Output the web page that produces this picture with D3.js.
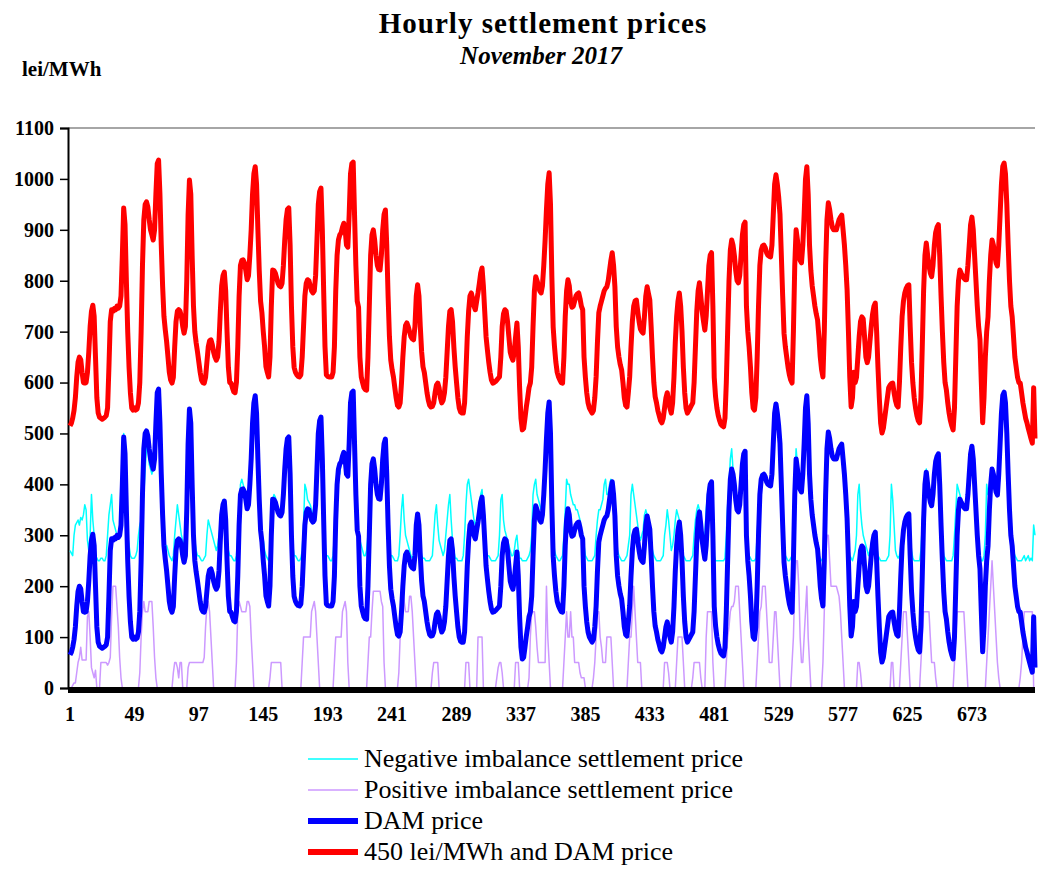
<!DOCTYPE html>
<html>
<head>
<meta charset="utf-8">
<script src="https://cdn.jsdelivr.net/npm/d3@7"></script>
<style>
  body { margin: 0; background: #fff; }
  text { font-family: "Liberation Serif", "Times New Roman", serif; }
</style>
</head>
<body>
<svg id="chart" width="1041" height="870"></svg>
<script>
// DAM price per day (24 hourly values each), November 2017, lei/MWh
var damDays = [
  [65,70,80,95,120,160,190,200,195,170,150,149,150,170,210,260,290,302,280,200,120,90,82,80],
  [78,80,82,85,100,180,270,293,290,295,293,300,296,300,320,400,493,460,350,250,180,130,100,96],
  [100,96,98,110,150,250,380,470,500,505,495,470,450,440,430,450,520,580,587,520,420,340,280,253],
  [230,200,170,155,149,160,220,270,290,293,290,280,260,247,260,350,480,548,520,400,300,250,228,210],
  [190,170,155,150,149,160,190,220,232,234,225,210,200,194,200,230,290,340,360,367,330,250,180,150],
  [149,140,132,130,150,220,320,380,390,391,385,370,352,360,400,450,520,560,574,540,450,370,310,287],
  [250,220,181,170,161,200,300,371,370,365,355,345,340,338,345,380,430,470,490,493,420,300,220,180],
  [170,165,162,161,165,200,260,320,345,352,350,340,330,326,330,360,430,500,525,532,450,330,220,165],
  [162,161,161,161,170,220,330,400,430,440,444,455,463,450,420,416,480,560,580,583,480,380,310,298],
  [200,161,150,140,136,135,200,300,400,440,450,430,400,380,372,371,400,450,480,489,420,320,240,194],
  [175,161,140,120,105,102,110,150,200,240,262,267,260,250,240,236,234,260,320,342,320,260,210,181],
  [170,150,130,115,105,102,103,110,130,145,149,140,120,110,115,130,160,210,260,290,293,270,220,181],
  [150,120,100,92,90,90,110,170,240,290,320,326,315,300,293,310,326,345,365,375,340,290,240,214],
  [190,170,155,149,150,152,155,158,161,200,260,285,293,290,270,240,210,200,194,210,240,267,220,140],
  [80,57,60,80,102,120,140,149,180,260,330,358,350,340,330,326,340,380,430,490,540,562,500,360],
  [259,220,190,170,161,155,150,149,200,280,330,352,340,310,298,300,310,320,324,326,315,300,293,200],
  [160,130,110,100,95,90,95,120,161,230,287,300,310,320,330,335,338,350,370,390,405,380,338,260],
  [220,200,185,175,150,120,105,102,130,161,220,270,300,310,312,290,270,255,250,247,280,320,338,325],
  [312,260,200,150,122,110,95,85,75,71,80,100,120,130,115,100,90,110,160,230,280,310,326,300],
  [250,180,130,100,90,95,100,105,110,150,220,290,330,346,320,290,270,253,280,330,380,400,405,300],
  [160,122,100,85,75,68,65,63,80,150,250,350,410,430,420,400,370,350,346,360,400,440,460,465],
  [300,250,220,180,130,100,96,120,200,300,380,410,418,420,415,405,400,398,397,420,480,540,558,540],
  [515,480,400,320,247,220,200,180,165,155,149,250,380,450,430,400,390,385,420,480,550,574,520,420],
  [370,340,320,300,285,273,240,200,175,161,250,380,470,503,490,470,455,450,450,450,460,470,475,479],
  [450,420,380,332,250,160,102,120,170,150,160,200,240,270,279,275,240,200,189,200,230,260,285,300],
  [306,250,180,120,70,51,60,80,100,120,140,145,148,149,130,115,105,102,150,220,280,310,326,335],
  [340,342,260,190,149,120,100,85,75,71,120,220,330,400,424,400,380,365,358,380,420,445,455,460],
  [400,320,250,190,150,135,110,90,75,65,57,100,200,300,350,371,365,360,355,352,352,380,420,460],
  [475,450,400,350,300,260,234,150,71,120,200,250,279,350,400,430,420,400,385,379,420,480,540,575],
  [581,560,500,420,350,300,279,240,200,180,160,150,149,130,110,95,80,71,60,50,40,31,140,40]
];

// Negative imbalance settlement price per day
var negDays = [
  [270,265,260,300,320,325,330,320,335,330,340,360,350,290,270,300,380,330,300,260,255,250,250,255],
  [255,250,250,260,300,340,360,380,330,320,310,300,300,310,330,420,500,470,380,300,280,260,255,255],
  [255,260,270,300,320,330,360,380,430,470,480,440,430,420,430,450,520,580,590,520,430,350,300,280],
  [280,270,260,255,250,260,300,330,360,340,320,300,290,280,300,350,480,550,520,410,310,290,270,260],
  [260,255,250,250,255,260,300,330,320,310,300,290,280,270,280,300,320,350,370,370,330,290,270,260],
  [260,255,250,250,260,300,330,400,410,400,390,380,370,380,410,450,520,560,575,540,460,380,330,300],
  [290,270,260,255,250,260,300,370,380,375,360,350,345,340,350,380,430,470,490,495,420,320,280,260],
  [260,255,250,250,255,270,320,400,390,370,365,360,350,340,340,370,430,500,525,532,450,340,280,260],
  [260,255,250,250,260,300,350,410,420,420,444,455,463,450,420,416,480,560,580,583,480,380,320,300],
  [290,280,270,260,260,270,300,350,400,440,450,430,400,380,380,380,400,450,480,489,420,330,270,260],
  [260,255,250,250,250,260,300,350,380,330,300,290,280,270,260,255,260,280,320,342,320,280,260,255],
  [255,250,250,250,250,255,260,300,340,360,320,290,280,270,260,270,300,330,360,380,330,290,270,255],
  [255,250,250,250,250,260,300,360,400,410,390,370,350,330,320,330,340,360,380,390,350,300,270,260],
  [260,255,250,250,250,250,255,260,300,370,380,330,310,300,290,280,270,260,260,270,290,300,270,255],
  [255,250,250,250,250,255,260,270,300,380,400,410,380,370,360,350,360,400,440,490,540,562,500,370],
  [300,270,260,255,250,250,255,260,300,350,410,400,400,380,370,360,360,350,350,340,330,310,300,280],
  [260,255,250,250,250,250,255,260,300,330,350,350,360,370,400,410,380,380,400,410,405,380,340,300],
  [270,260,255,250,250,250,255,260,280,300,380,400,380,360,340,320,300,290,300,310,340,350,340,330],
  [320,290,270,260,255,250,250,250,250,255,260,300,320,350,330,300,270,280,300,330,350,340,330,310],
  [280,260,255,250,250,250,250,255,260,300,330,350,360,350,330,300,290,300,350,380,400,405,405,320],
  [260,250,250,250,250,250,250,250,255,300,360,400,450,470,430,410,380,360,350,370,420,450,460,465],
  [300,270,260,255,250,250,250,255,300,350,400,420,420,420,415,405,400,398,398,420,480,540,558,540],
  [515,480,400,330,270,260,255,250,250,255,260,300,400,470,440,400,390,385,420,480,550,574,520,420],
  [380,350,330,310,290,280,260,255,250,255,300,400,470,503,490,470,455,450,450,450,460,470,475,479],
  [450,420,380,340,280,260,255,250,260,270,300,380,400,350,320,300,290,280,270,260,270,280,290,300],
  [310,280,260,255,250,250,250,250,250,255,260,300,400,370,320,270,260,255,260,280,300,320,330,340],
  [345,342,300,270,255,250,250,250,250,250,270,320,380,420,430,400,380,370,360,380,420,445,455,460],
  [400,330,280,260,255,250,250,250,250,250,260,300,350,400,390,380,370,365,360,360,360,380,420,460],
  [475,450,400,350,300,280,260,250,250,260,300,400,380,380,410,430,420,400,385,380,420,480,540,575],
  [580,560,500,420,350,310,290,270,260,255,250,250,250,250,255,260,250,255,260,250,255,250,320,300]
];

// Positive imbalance settlement price per day
var posDays = [
  [0,0,5,10,10,30,50,60,80,55,55,55,55,140,150,100,40,30,20,35,0,0,0,50],
  [50,50,50,50,45,50,60,140,200,200,200,160,120,60,20,0,0,0,0,0,0,0,0,0],
  [0,0,0,0,30,100,150,170,150,150,150,170,170,170,120,60,20,0,0,0,0,0,0,0],
  [0,0,0,0,0,30,50,50,40,20,50,50,0,0,0,0,40,50,50,50,50,50,50,50],
  [50,50,50,50,60,120,160,170,150,100,50,0,0,0,0,0,0,0,0,0,0,0,0,0],
  [0,0,0,0,50,150,170,160,150,150,150,150,170,170,160,100,50,0,0,0,0,0,0,0],
  [0,0,0,0,0,20,50,50,50,50,50,50,50,50,0,0,0,0,0,0,0,0,0,0],
  [0,0,0,0,0,50,100,100,100,100,100,100,150,160,170,150,100,50,0,0,0,0,0,0],
  [0,0,0,0,0,50,100,100,100,100,100,150,160,170,150,50,0,0,0,0,0,0,0,0],
  [0,0,0,0,0,0,50,100,100,150,190,190,190,190,190,190,170,160,50,0,0,0,0,0],
  [0,0,0,0,0,30,100,180,190,170,150,150,150,180,180,150,100,50,0,0,0,0,0,0],
  [0,0,0,0,0,0,30,50,50,50,50,0,0,0,0,0,0,0,0,0,0,0,0,0],
  [0,0,0,0,0,0,0,50,50,50,0,0,0,0,0,0,100,100,100,100,0,0,0,0],
  [0,0,0,0,0,0,20,40,50,50,30,0,0,0,0,0,0,0,0,0,50,50,50,0],
  [0,0,0,0,0,0,20,100,150,150,150,120,80,50,50,50,50,50,50,200,100,50,0,0],
  [0,0,0,0,0,0,0,0,50,100,150,100,100,150,100,100,50,50,50,50,30,20,20,20],
  [0,0,0,0,0,0,20,50,100,150,150,100,80,50,50,50,100,100,100,100,50,0,0,0],
  [0,0,0,0,0,0,0,0,50,100,100,150,200,150,100,50,50,50,0,0,0,0,0,0],
  [0,0,0,0,0,0,0,0,0,0,0,50,50,50,30,0,0,0,0,0,50,100,100,100],
  [100,50,0,0,0,0,0,0,20,50,50,50,50,50,20,0,0,0,100,150,150,150,150,50],
  [0,0,0,0,0,0,0,0,0,50,100,120,150,160,160,170,200,200,200,150,100,50,0,0],
  [0,0,0,0,0,0,0,0,50,100,150,160,200,200,200,150,100,50,50,50,100,150,150,100],
  [50,0,0,0,0,0,0,0,0,0,50,100,200,250,250,200,100,50,50,100,150,200,100,50],
  [0,0,0,0,0,0,0,0,0,50,150,250,300,300,250,200,200,200,200,200,190,180,150,100],
  [50,0,0,0,0,0,0,0,0,0,0,50,50,30,0,0,0,0,0,0,0,0,0,0],
  [0,0,0,0,0,0,0,0,0,0,0,0,50,50,0,0,0,0,0,50,100,150,150,150],
  [100,50,0,0,0,0,0,0,0,0,50,100,150,150,150,150,150,100,50,50,50,20,0,0],
  [0,0,0,0,0,0,0,0,0,0,0,50,100,150,150,150,150,150,150,100,50,0,0,0],
  [0,0,0,0,0,0,0,0,0,0,0,50,100,150,200,250,200,150,100,50,20,0,0,0],
  [0,0,0,0,0,0,0,0,0,0,0,0,20,50,100,150,150,150,150,150,150,150,0,0]
];

var yTicks = [0,100,200,300,400,500,600,700,800,900,1000,1100];
var xTicks = [1,49,97,145,193,241,289,337,385,433,481,529,577,625,673];
var offset = 450; // red series = 450 lei/MWh + DAM price

var dam = damDays.flat();
var neg = negDays.flat();
var pos = posDays.flat();
var red = dam.map(function(v) { return v + offset; });
var hours = d3.range(1, dam.length + 1);

var svg = d3.select("#chart");
var x = d3.scaleLinear().domain([1, 720]).range([70, 1035]);
var y = d3.scaleLinear().domain([0, 1100]).range([688, 128]);

// titles
svg.append("text").attr("x", 543).attr("y", 33).attr("text-anchor", "middle")
    .style("font-size", "29px").style("font-weight", "bold").style("letter-spacing", "1px")
    .text("Hourly settlement prices");
svg.append("text").attr("x", 541).attr("y", 64).attr("text-anchor", "middle")
    .style("font-size", "25px").style("font-weight", "bold").style("font-style", "italic").text("November 2017");
svg.append("text").attr("x", 22).attr("y", 76)
    .style("font-size", "21px").style("font-weight", "bold").text("lei/MWh");

// top border
svg.append("line").attr("x1", 68).attr("x2", 1035).attr("y1", 128).attr("y2", 128)
    .attr("stroke", "#888").attr("stroke-width", 1.5);

// y axis
var yAxis = svg.append("g").attr("transform", "translate(68,0)")
    .call(d3.axisLeft(y).tickValues(yTicks).tickSize(8).tickFormat(d3.format("d")));
yAxis.select(".domain").attr("stroke-width", 2);
yAxis.selectAll(".tick line").attr("stroke-width", 1.5);
yAxis.selectAll("text").style("font-size", "20px").style("font-weight", "bold")
    .style("font-family", "Liberation Serif, serif").attr("x", -14);

// series
var line = function(arr) {
    return d3.line().x(function(d, i) { return x(hours[i]); }).y(function(d) { return y(d); })(arr);
};
var series = [
    { data: neg, color: "#00FFFF", w: 1.5 },
    { data: pos, color: "#CC99FF", w: 1.5 },
    { data: dam, color: "#0000FF", w: 5 },
    { data: red, color: "#FF0000", w: 5 }
];
series.forEach(function(s) {
    svg.append("path").attr("d", line(s.data)).attr("fill", "none")
        .attr("stroke", s.color).attr("stroke-width", s.w).attr("stroke-linejoin", "round");
});

// zero line (thick black)
svg.append("line").attr("x1", x(1) - 2).attr("x2", 1035).attr("y1", y(0) + 2).attr("y2", y(0) + 2)
    .attr("stroke", "#000").attr("stroke-width", 6);

// x axis labels
svg.append("g").selectAll("text").data(xTicks).enter().append("text")
    .attr("x", function(d) { return x(d); }).attr("y", 721).attr("text-anchor", "middle")
    .style("font-size", "20px").style("font-weight", "bold").text(function(d) { return d; });

// legend
var legendItems = [
    { label: "Negative imbalance settlement price", color: "#00FFFF", w: 1.5 },
    { label: "Positive imbalance settlement price", color: "#CC99FF", w: 1.5 },
    { label: "DAM price", color: "#0000FF", w: 6 },
    { label: "450 lei/MWh and DAM price", color: "#FF0000", w: 6 }
];
var lg = svg.append("g").selectAll("g").data(legendItems).enter().append("g")
    .attr("transform", function(d, i) { return "translate(0," + (759 + i * 31) + ")"; });
lg.append("line").attr("x1", 308).attr("x2", 358).attr("y1", 0).attr("y2", 0)
    .attr("stroke", function(d) { return d.color; }).attr("stroke-width", function(d) { return d.w; });
lg.append("text").attr("x", 364).attr("y", 8).style("font-size", "26px")
    .text(function(d) { return d.label; });
</script>
</body>
</html>
